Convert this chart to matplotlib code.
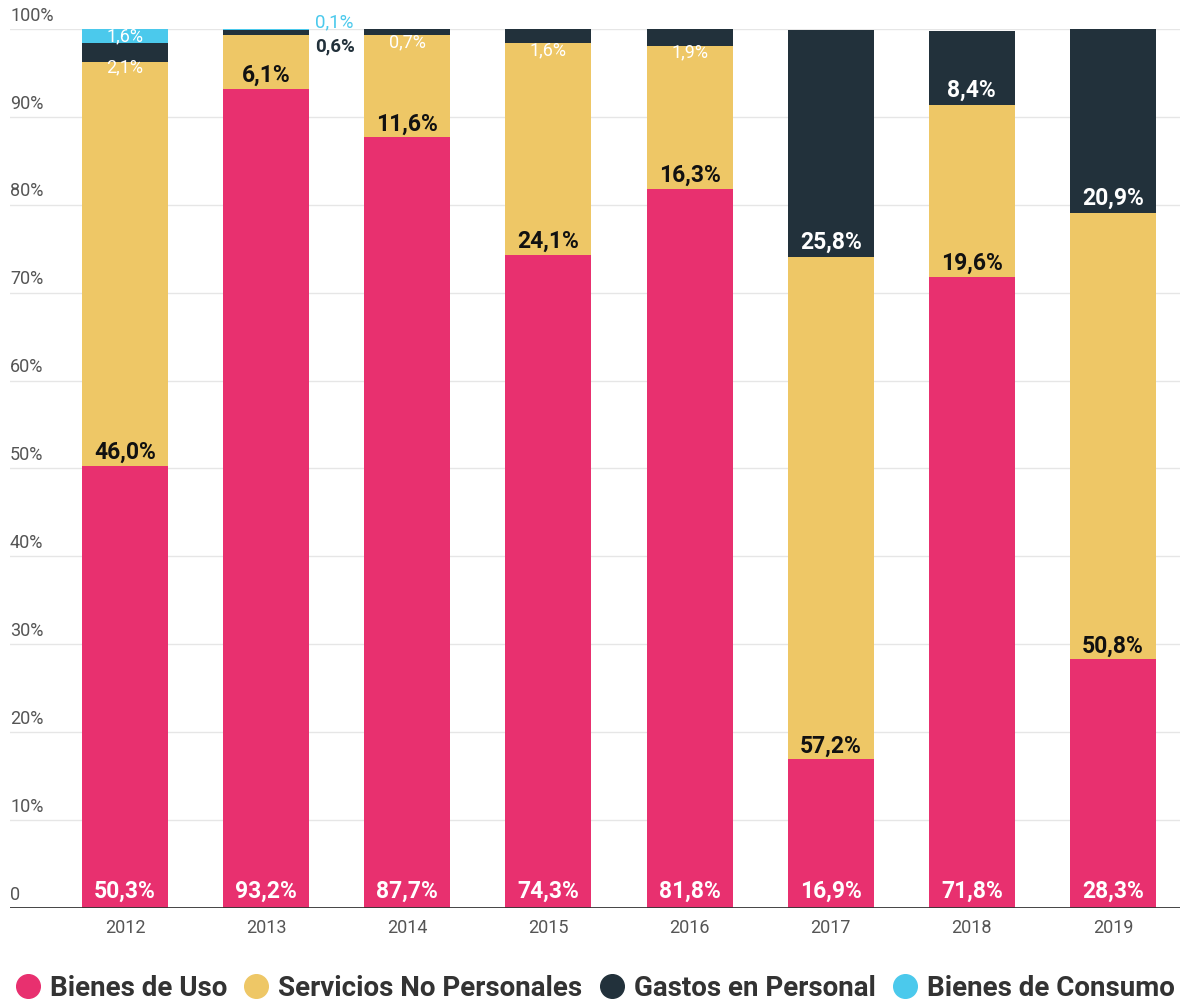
import matplotlib
matplotlib.use("Agg")
import matplotlib.pyplot as plt
from matplotlib.lines import Line2D
import numpy as np

plt.rcParams['font.family'] = ['Roboto', 'DejaVu Sans']

years = ['2012', '2013', '2014', '2015', '2016', '2017', '2018', '2019']
bienes_uso = [50.3, 93.2, 87.7, 74.3, 81.8, 16.9, 71.8, 28.3]
servicios = [46.0, 6.1, 11.6, 24.1, 16.3, 57.2, 19.6, 50.8]
gastos = [2.1, 0.6, 0.7, 1.6, 1.9, 25.8, 8.4, 20.9]
consumo = [1.6, 0.1, 0.0, 0.0, 0.0, 0.0, 0.0, 0.0]
series_names = ['Bienes de Uso', 'Servicios No Personales', 'Gastos en Personal', 'Bienes de Consumo']
yticks = [0, 10, 20, 30, 40, 50, 60, 70, 80, 90, 100]

PINK = '#E8306F'
YELLOW = '#EEC766'
DARK = '#22313B'
CYAN = '#4BC9EC'
colors = [PINK, YELLOW, DARK, CYAN]


def fmt(v):
    return '{:.1f}%'.format(v).replace('.', ',')


fig = plt.figure(figsize=(11.86, 10.01), dpi=100)
ax = fig.add_axes([10 / 1186, 1 - 908 / 1001, 1170 / 1186, (908 - 29) / 1001])

x = np.arange(len(years))
w = 0.61
b1 = np.array(bienes_uso)
b2 = b1 + np.array(servicios)
b3 = b2 + np.array(gastos)

ax.bar(x, bienes_uso, w, color=PINK, zorder=2)
ax.bar(x, servicios, w, bottom=b1, color=YELLOW, zorder=2)
ax.bar(x, gastos, w, bottom=b2, color=DARK, zorder=2)
ax.bar(x, consumo, w, bottom=b3, color=CYAN, zorder=2)

ax.set_xlim(-0.815, 7.475)
ax.set_ylim(0, 100)

# grid + y labels
for t in yticks:
    if t > 0:
        ax.axhline(t, color='#e6e6e6', lw=1, zorder=0)
    lab = '0' if t == 0 else '{}%'.format(t)
    ax.text(0.0, t + 0.5, lab, transform=ax.get_yaxis_transform(),
            ha='left', va='bottom', fontsize=13, color='#555555')
ax.axhline(0, color='#333333', lw=2, zorder=3)

for s in ['top', 'right', 'left', 'bottom']:
    ax.spines[s].set_visible(False)
ax.set_yticks([])
ax.set_xticks(x)
ax.set_xticklabels(years, fontsize=13, color='#555555')
ax.tick_params(axis='x', length=0, pad=8)

big = dict(fontsize=16.5, fontweight='bold', ha='center', va='bottom', zorder=4)
for i in range(len(years)):
    ax.text(x[i], 0.6, fmt(bienes_uso[i]), color='white', **big)
    ax.text(x[i], b1[i] + 0.2, fmt(servicios[i]), color='#111111', **big)
    if gastos[i] >= 5:
        ax.text(x[i], b2[i] + 0.3, fmt(gastos[i]), color='white', **big)

# small labels
ax.text(x[0], b2[0] - 0.7, fmt(gastos[0]), color='white', fontsize=13,
        ha='center', va='center', zorder=4)
ax.text(x[0], b3[0] + consumo[0] / 2, fmt(consumo[0]), color='white', fontsize=13,
        ha='center', va='center', zorder=4)
ax.text(x[1] + w / 2 + 0.04, 98.0, fmt(gastos[1]), color=DARK, fontsize=13.5,
        fontweight='bold', ha='left', va='center', zorder=4)
ax.text(x[1] + w / 2 + 0.04, 100.8, fmt(consumo[1]), color=CYAN, fontsize=13.5,
        ha='left', va='center', zorder=4, clip_on=False)
for i in [2, 3, 4]:
    ax.text(x[i], b2[i] - 0.8, fmt(gastos[i]), color='white', fontsize=13,
            ha='center', va='center', zorder=4)

handles = [Line2D([], [], marker='o', ls='', markersize=17, markerfacecolor=c,
                  markeredgecolor=c) for c in colors]
fig.legend(handles, series_names, loc='center', bbox_to_anchor=(0.5, 1 - 988 / 1001),
           ncol=4, frameon=False, handletextpad=0.2, columnspacing=0.45,
           handlelength=1.2, borderpad=0.0,
           prop={'size': 20, 'weight': 'bold'}, labelcolor='#333333')

fig.savefig('out.png', dpi=100)
